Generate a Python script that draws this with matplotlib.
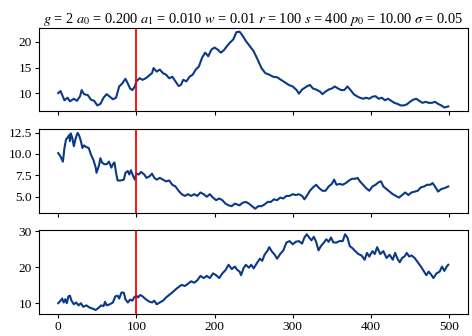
import numpy as np
import matplotlib.pyplot as plt

plt.rcParams['font.family'] = ['Liberation Serif', 'DejaVu Serif']
plt.rcParams['mathtext.fontset'] = 'stix'
plt.rcParams['font.size'] = 9.6

# serie 1 (panel superior)
t1 = [0, 3, 8, 12, 15, 20, 24, 28, 30, 33, 38, 42, 46, 50, 54, 58, 62, 66, 70, 74,
      78, 82, 86, 89, 92, 95, 98, 100, 104, 108, 112, 116, 120, 122, 126, 130, 134, 138,
      142, 146, 150, 154, 157, 160, 164, 168, 172, 176, 180, 184, 188, 192, 196, 200,
      204, 208, 212, 216, 220, 224, 228, 232, 236, 240, 245, 250, 255, 260, 265, 270,
      275, 280, 285, 290, 295, 300, 305, 308, 312, 318, 322, 326, 330, 335, 338, 342,
      346, 350, 354, 358, 362, 366, 370, 374, 378, 382, 386, 390, 394, 398, 402, 406,
      410, 414, 418, 422, 426, 430, 434, 438, 442, 446, 450, 454, 458, 462, 466, 470,
      474, 478, 482, 486, 490, 494, 499]
p1 = [10.0, 10.4, 8.6, 9.1, 8.4, 8.9, 8.5, 9.4, 10.6, 9.8, 9.6, 8.7, 8.5, 7.6, 7.9, 9.1,
      9.8, 9.3, 8.8, 9.1, 11.3, 11.9, 12.8, 11.9, 10.9, 10.6, 11.3, 12.3, 12.9, 12.6, 12.9,
      13.4, 13.9, 14.9, 14.2, 14.6, 13.9, 13.6, 12.9, 13.2, 12.3, 11.4, 11.6, 12.6, 12.3,
      13.2, 13.6, 14.6, 15.2, 16.9, 17.9, 17.2, 18.5, 18.9, 18.5, 17.9, 18.4, 19.2, 19.9,
      20.5, 21.9, 22.0, 21.2, 20.2, 19.2, 18.2, 16.6, 14.9, 13.9, 13.6, 13.2, 13.1, 12.6,
      12.1, 11.6, 11.3, 10.6, 9.9, 10.7, 11.3, 11.6, 10.9, 10.7, 10.3, 9.8, 10.3, 10.7,
      10.9, 11.3, 10.9, 10.6, 10.6, 11.3, 10.6, 9.8, 9.4, 9.1, 8.9, 9.1, 8.9, 9.3, 9.4,
      8.9, 9.1, 8.6, 8.9, 8.5, 8.1, 7.9, 7.6, 7.6, 7.8, 8.3, 8.7, 8.9, 8.5, 8.1, 8.3,
      8.1, 8.1, 8.3, 7.9, 7.6, 7.2, 7.4]

# serie 2 (panel central)
t2 = [0, 3, 6, 8, 10, 12, 14, 15, 16, 18, 20, 22, 24, 25, 27, 29, 31, 33, 36, 39, 42,
      45, 48, 49, 52, 54, 56, 59, 62, 65, 68, 70, 72, 74, 76, 80, 84, 86, 89, 91, 93, 96,
      98, 100, 103, 106, 110, 113, 117, 120, 123, 126, 130, 134, 138, 142, 146, 150, 154,
      158, 162, 166, 170, 174, 178, 182, 186, 190, 194, 198, 202, 206, 210, 214, 218, 222,
      226, 232, 236, 240, 244, 248, 252, 256, 260, 264, 268, 272, 276, 280, 284, 288, 292,
      296, 300, 304, 308, 312, 315, 318, 322, 326, 330, 334, 338, 342, 346, 350, 353, 356,
      360, 364, 368, 372, 376, 380, 383, 386, 390, 394, 398, 402, 406, 410, 413, 416, 420,
      424, 428, 432, 436, 440, 444, 448, 452, 456, 460, 464, 468, 472, 476, 479, 482, 486,
      490, 494, 499]
p2 = [10.1, 9.7, 9.1, 10.7, 11.7, 11.9, 12.2, 11.5, 12.4, 11.9, 10.9, 11.7, 12.3, 12.45,
      12.1, 11.5, 10.7, 11.0, 10.8, 10.7, 9.9, 9.3, 8.4, 7.8, 8.6, 9.5, 9.0, 8.8, 8.8, 9.1,
      8.4, 8.8, 9.0, 7.8, 6.9, 6.9, 7.0, 7.8, 8.0, 7.6, 8.1, 7.4, 7.0, 7.7, 7.6, 7.9, 7.6,
      7.2, 7.4, 7.7, 7.2, 7.0, 7.2, 7.0, 6.8, 6.9, 6.4, 6.2, 5.7, 5.3, 5.1, 5.3, 5.1, 5.3,
      5.1, 5.5, 5.3, 5.0, 5.3, 4.9, 4.6, 4.8, 4.6, 4.2, 4.0, 3.9, 4.2, 4.0, 4.3, 4.4, 4.2,
      3.9, 3.6, 3.9, 3.9, 4.1, 4.4, 4.4, 4.7, 4.6, 4.9, 4.8, 5.1, 5.1, 5.3, 5.2, 5.3, 5.1,
      4.7, 5.1, 5.7, 6.1, 6.4, 6.0, 5.7, 5.7, 6.2, 6.5, 7.0, 6.4, 6.5, 6.4, 6.6, 6.9, 7.1,
      7.1, 7.2, 6.8, 6.4, 6.0, 5.7, 6.2, 6.4, 6.7, 6.8, 6.2, 5.9, 5.6, 5.3, 5.1, 4.9, 5.2,
      5.5, 5.2, 5.5, 5.6, 5.7, 6.1, 6.2, 6.4, 6.4, 6.6, 6.2, 5.6, 5.9, 6.0, 6.2]

# serie 3 (panel inferior)
t3 = [0, 3, 5, 7, 9, 11, 13, 15, 17, 20, 23, 26, 29, 32, 36, 40, 44, 48, 52, 55, 58, 60,
      62, 66, 70, 73, 76, 78, 81, 84, 86, 89, 92, 95, 97, 100, 102, 105, 108, 112, 116, 120,
      123, 126, 130, 134, 138, 142, 146, 150, 154, 158, 162, 166, 170, 174, 178, 182, 186,
      190, 194, 198, 202, 206, 210, 214, 218, 222, 226, 229, 232, 234, 237, 240, 244, 247,
      250, 254, 258, 261, 264, 268, 270, 273, 277, 280, 284, 288, 292, 296, 300, 304, 308,
      312, 315, 318, 321, 324, 327, 330, 333, 336, 340, 343, 346, 349, 352, 356, 360, 364,
      367, 370, 373, 376, 380, 384, 388, 392, 395, 398, 402, 405, 408, 412, 416, 420, 424,
      428, 431, 434, 437, 440, 443, 446, 449, 452, 456, 460, 464, 468, 471, 474, 477, 480,
      484, 488, 491, 494, 497, 499]
p3 = [10.0, 10.7, 11.3, 10.2, 11.1, 10.0, 11.9, 12.1, 10.7, 9.7, 10.2, 9.4, 10.0, 9.0,
      9.4, 8.8, 8.5, 8.1, 8.8, 9.4, 9.2, 10.4, 9.4, 9.7, 10.2, 11.9, 12.1, 11.3, 13.0, 12.9,
      11.1, 10.2, 11.0, 10.7, 11.6, 12.1, 11.6, 12.3, 11.9, 11.1, 10.5, 10.2, 10.7, 9.7,
      10.2, 10.7, 11.6, 12.3, 13.0, 13.8, 14.5, 15.1, 14.8, 15.4, 16.1, 15.7, 16.4, 17.6,
      17.0, 17.6, 17.0, 18.3, 17.8, 17.0, 18.3, 19.2, 20.7, 19.5, 20.2, 19.3, 18.8, 17.8,
      19.7, 20.7, 19.9, 20.7, 19.7, 21.1, 22.4, 21.8, 23.5, 24.7, 25.6, 24.5, 23.5, 22.4,
      23.7, 24.7, 26.9, 27.3, 26.4, 27.1, 27.3, 26.6, 28.3, 29.2, 28.3, 27.5, 28.5, 27.1,
      24.7, 25.9, 26.9, 27.8, 27.1, 28.3, 26.9, 26.9, 27.3, 27.3, 29.2, 28.3, 25.9, 25.4,
      24.5, 23.7, 23.3, 22.1, 24.0, 23.0, 24.5, 23.7, 25.6, 23.7, 24.5, 22.6, 23.5, 22.1,
      24.0, 22.4, 21.4, 22.6, 23.0, 24.0, 23.0, 23.3, 22.6, 21.4, 20.2, 18.8, 17.8, 18.8,
      18.0, 17.0, 18.3, 18.8, 20.2, 19.0, 20.2, 20.7]

yticks = [[10, 15, 20], [5.0, 7.5, 10.0, 12.5], [10, 20, 30]]
xticks = [0, 100, 200, 300, 400, 500]

titulo = (r'$g$ = 2 $a_0$ = 0.200 $a_1$ = 0.010 $w$ = 0.01 $r$ = 100 '
          r'$s$ = 400 $p_0$ = 10.00 $\sigma$ = 0.05')

fig, axs = plt.subplots(3, 1, sharex=True, figsize=(4.72, 3.36), dpi=100)
fig.subplots_adjust(left=0.082, right=0.991, top=0.917, bottom=0.066, hspace=0.215)

for ax, t, p, yt in zip(axs, [t1, t2, t3], [p1, p2, p3], yticks):
    ax.plot(t, p, color='#0a3a85', lw=1.5)
    ax.axvline(100, color='red', lw=1.3)
    ax.set_yticks(yt)
    ax.tick_params(length=3, pad=2)

axs[1].set_yticklabels(['5.0', '7.5', '10.0', '12.5'])
axs[0].set_title(titulo, fontsize=10.4, pad=3)
axs[2].set_xticks(xticks)

plt.savefig('out.png', dpi=100)
